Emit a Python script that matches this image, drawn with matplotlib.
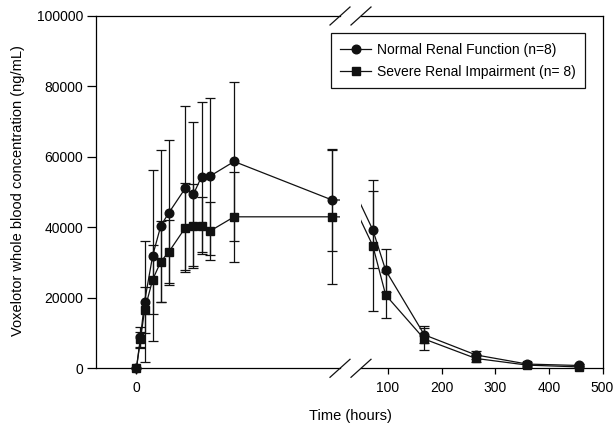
import matplotlib
matplotlib.use('Agg')
import matplotlib.pyplot as plt
from matplotlib.lines import Line2D
from matplotlib.ticker import FormatStrFormatter

plt.rcParams['font.family'] = ['Liberation Sans', 'DejaVu Sans']

# time points (hours) and mean +/- SD concentrations (ng/mL)
times = [0, 0.5, 1, 2, 3, 4, 6, 7, 8, 9, 12, 24, 48, 72, 96, 168, 264, 360, 456]
normal_mean = [0, 8800, 18900, 32000, 40500, 44200, 51100, 49400, 54400, 54500,
               58700, 47800, 47000, 39300, 27800, 9500, 3800, 1200, 800]
normal_sd = [0, 3000, 17200, 24200, 21600, 20600, 23300, 20500, 21300, 22300,
             22500, 14500, 13000, 10900, 6100, 2400, 1200, 500, 400]
severe_mean = [0, 8200, 16500, 25200, 30300, 33100, 39900, 40400, 40500, 38900,
               43000, 43000, 42500, 34800, 20800, 8300, 2800, 900, 400]
severe_sd = [0, 2200, 6500, 9900, 11500, 9000, 12600, 12000, 8000, 8200,
             12800, 19000, 17000, 18600, 6400, 3000, 1000, 400, 300]

labels = ['Normal Renal Function (n=8)', 'Severe Renal Impairment (n= 8)']
left_ticks = [0]
right_ticks = [100, 200, 300, 400, 500]
y_ticks = [0, 20000, 40000, 60000, 80000, 100000]

W, H = 616, 432
fig = plt.figure(figsize=(W / 100, H / 100), dpi=100)

bottom = 1 - 368.3 / H
height = (368.3 - 16) / H
ax1 = fig.add_axes([95.7 / W, bottom, (340 - 95.7) / W, height])
ax2 = fig.add_axes([361 / W, bottom, (602.5 - 361) / W, height])
ax1.set_xlim(-5, 25)
ax2.set_xlim(50, 500)

series = [(normal_mean, normal_sd, 'o', 6.2), (severe_mean, severe_sd, 's', 6.0)]

for ax in (ax1, ax2):
    lo, hi = ax.get_xlim()
    idx = [i for i, t in enumerate(times) if lo <= t <= hi]
    for mean, sd, mk, ms in series:
        ax.plot(times, mean, color='#111111', lw=0.9, zorder=2)
        ax.errorbar([times[i] for i in idx], [mean[i] for i in idx],
                    yerr=[sd[i] for i in idx], fmt=mk, ms=ms, color='#111111',
                    mfc='#111111', mec='#111111', elinewidth=0.9, capsize=3.6,
                    capthick=0.9, clip_on=False, zorder=3)
    ax.set_ylim(0, 100000)
    for s in ax.spines.values():
        s.set_linewidth(0.9)
    ax.tick_params(axis='both', direction='out', labelsize=10, width=0.9)
    ax.tick_params(axis='x', length=4, pad=5)
    ax.tick_params(axis='y', length=6.5, pad=2.5)

ax1.set_xticks(left_ticks)
ax2.set_xticks(right_ticks)
ax1.set_yticks(y_ticks)
ax1.yaxis.set_major_formatter(FormatStrFormatter('%d'))
ax2.set_yticks([])
ax1.spines['right'].set_visible(False)
ax2.spines['left'].set_visible(False)

# break marks
for cx in (340, 361):
    for cy in (16, 368.3):
        fig.add_artist(Line2D([(cx - 10) / W, (cx + 10) / W],
                              [1 - (cy + 9) / H, 1 - (cy - 9) / H],
                              color='#111111', lw=0.9))

handles = [Line2D([], [], color='#111111', lw=0.9, marker='o', ms=6.2),
           Line2D([], [], color='#111111', lw=0.9, marker='s', ms=6.0)]
leg = fig.legend(handles, labels, loc='upper right',
                 bbox_to_anchor=(585 / W, 1 - 33.3 / H), borderaxespad=0,
                 fontsize=10, frameon=True, fancybox=False, framealpha=1,
                 edgecolor='#111111', handlelength=2.2, labelspacing=0.55,
                 borderpad=0.7, handletextpad=0.4)
leg.get_frame().set_linewidth(0.9)

fig.text(350 / W, 1 - 416 / H, 'Time (hours)', ha='center', va='center', fontsize=10.5)
fig.text(18 / W, 1 - 191 / H, 'Voxelotor whole blood concentration (ng/mL)',
         ha='center', va='center', rotation=90, fontsize=10.5)

fig.savefig('out.png', dpi=100)
